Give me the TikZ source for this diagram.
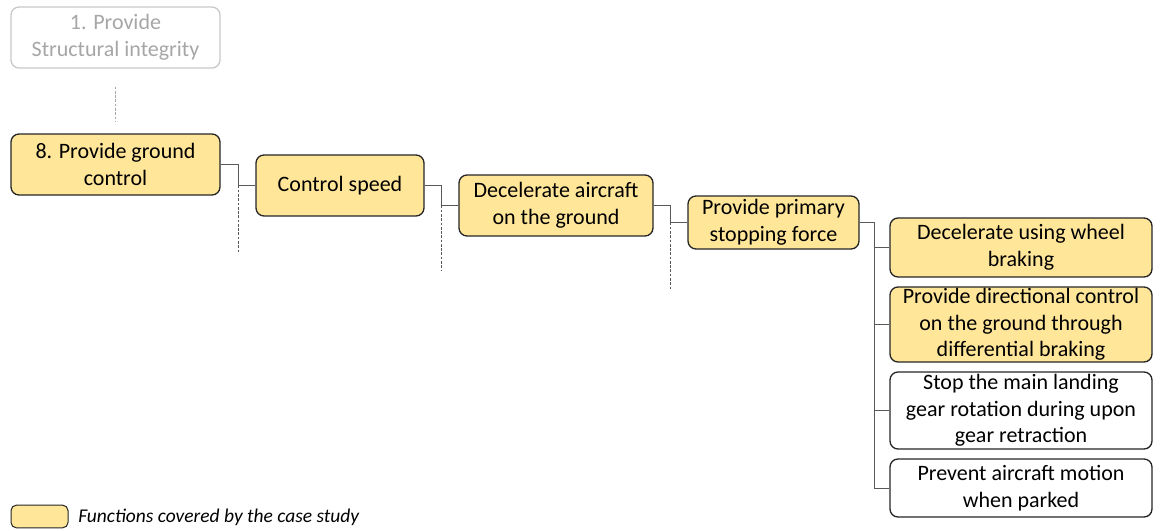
\documentclass[tikz,border=0pt]{standalone}
\usepackage{fontspec}
\setmainfont{Carlito}
\usetikzlibrary{calc}
\definecolor{fillY}{HTML}{FFE699}
\definecolor{edgeC}{HTML}{262626}
\definecolor{linkC}{HTML}{595959}
\definecolor{ghostC}{HTML}{C8C8C8}
\definecolor{ghostT}{HTML}{A6A6A6}
\begin{document}
\begin{tikzpicture}[x=0.75pt,y=-0.75pt,
  fn/.style={draw=edgeC, line width=1pt, rounded corners=6pt, align=center,
    font=\fontsize{16.5}{20}\selectfont, inner sep=0pt, text=black},
  covered/.style={fn, fill=fillY},
  plain/.style={fn, fill=white},
  ghost/.style={fn, draw=ghostC, text=ghostT},
  link/.style={draw=linkC, line width=0.75pt},
  dotlink/.style={draw=linkC, line width=0.6pt, dash pattern=on 2pt off 1.2pt},
  ghostlink/.style={draw=ghostT, line width=0.6pt, dash pattern=on 2pt off 1.2pt}]
\useasboundingbox (0,0) rectangle (1153,529);

% function tree
\node[ghost, minimum width=156.75pt, minimum height=45.75pt] (n1) at (115.5,37.5) {1. Provide\\Structural integrity};
\node[covered, minimum width=156.75pt, minimum height=45.75pt] (n8) at (115.5,164.5) {8. Provide ground\\control};
\node[covered, minimum width=126pt, minimum height=45.75pt] (cs) at (340,185.5) {Control speed};
\node[covered, minimum width=145.5pt, minimum height=45.75pt] (dec) at (556,205.5) {Decelerate aircraft\\on the ground};
\node[covered, minimum width=128.25pt, minimum height=39.75pt] (psf) at (773.5,222.5) {Provide primary\\stopping force};
\node[covered, minimum width=196.5pt, minimum height=44.25pt] (c1) at (1021,247.5) {Decelerate using wheel\\braking};
\node[covered, minimum width=196.5pt, minimum height=56.25pt] (c2) at (1021,324.5) {Provide directional control\\on the ground through\\differential braking};
\node[plain, minimum width=196.5pt, minimum height=57.75pt] (c3) at (1021,410.5) {Stop the main landing\\gear rotation during upon\\gear retraction};
\node[plain, minimum width=196.5pt, minimum height=43.5pt] (c4) at (1021,488) {Prevent aircraft motion\\when parked};

% link to the upper level
\draw[ghostlink] ($(n1.south)+(0,18)$) -- ($(n8.north)-(0,11)$);

% parent-child connectors
\draw[link] (n8.east) -- ++(18,0) coordinate (k1) |- (cs.west);
\draw[dotlink] (k1 |- cs.west) -- ++(0,67);
\draw[link] (cs.east) -- ++(17,0) coordinate (k2) |- (dec.west);
\draw[dotlink] (k2 |- dec.west) -- ++(0,65);
\draw[link] (dec.east) -- ++(17,0) coordinate (k3) |- (psf.west);
\draw[dotlink] (k3 |- psf.west) -- ++(0,66);
\draw[link] (psf.east) -- ++(15,0) coordinate (k4) |- (c4.west);
\draw[link] (k4 |- c1.west) -- (c1.west);
\draw[link] (k4 |- c2.west) -- (c2.west);
\draw[link] (k4 |- c3.west) -- (c3.west);

% legend
\node[covered, line width=0.75pt, rounded corners=4pt, minimum width=42.75pt, minimum height=17pt] (lg) at (39.5,516.5) {};
\node[anchor=west, inner sep=0pt, font=\fontsize{14.6}{17}\selectfont\itshape] (lgt) at (78,517) {Functions covered by the case study};
\end{tikzpicture}
\end{document}
